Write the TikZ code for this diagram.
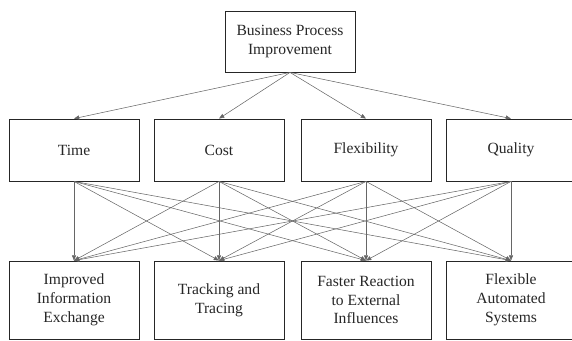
\documentclass[tikz,border=0pt]{standalone}
\usepackage{fontspec}
\setmainfont{Liberation Serif}
\usetikzlibrary{arrows.meta}

\begin{document}
\begin{tikzpicture}[x=0.03cm,y=-0.03cm,
    box/.style={draw=black!85,line width=0.7pt,text=black!85,align=center,
      minimum width=3.9cm,inner sep=0pt,font=\fontsize{13.3}{16}\selectfont},
    link/.style={draw=black!60,line width=0.45pt,-{Triangle[length=4.5pt,width=3.5pt]}}]
  \useasboundingbox (0,0) rectangle (572,340);
  % goal on top
  \node[box,minimum height=1.83cm] (bpi) at (290,41.5) {Business Process\\Improvement};
  % the four targets
  \foreach \n/\x/\t in {time/74/Time,cost/219/Cost,flex/366/Flexibility,qual/511/Quality}
    \node[box,minimum height=1.86cm] (\n) at (\x,150) {\t};
  % the four measures
  \foreach \n/\x/\t in {info/74/{Improved\\Information\\Exchange},
                        track/219/{Tracking and\\Tracing},
                        react/366/{Faster Reaction\\to External\\Influences},
                        auto/511/{Flexible\\Automated\\Systems}}
    \node[box,minimum height=2.34cm] (\n) at (\x,300) {\t};
  \foreach \m in {time,cost,flex,qual}
    \draw[link] (bpi.south) -- (\m.north);
  % every target to every measure
  \foreach \m in {time,cost,flex,qual}
    \foreach \b in {info,track,react,auto}
      \draw[link] (\m.south) -- (\b.north);
\end{tikzpicture}
\end{document}
